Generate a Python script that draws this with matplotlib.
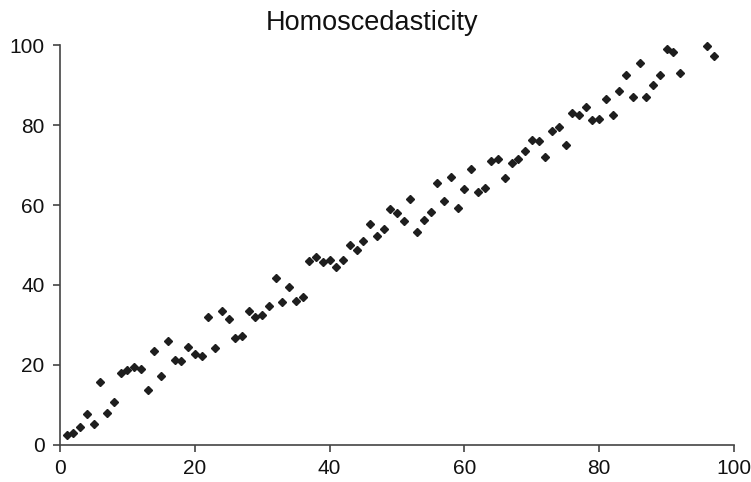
import numpy as np
import matplotlib.pyplot as plt

# =========================
# Data
# =========================
x_vals = list(range(1, 93)) + [96, 97]
y_vals = [
    2.5, 3.0, 4.4, 7.7, 5.2, 15.8, 7.9, 10.7, 18.0, 18.7,
    19.4, 19.1, 13.7, 23.6, 17.2, 26.0, 21.2, 20.9, 24.6, 22.7,
    22.2, 32.1, 24.2, 33.4, 31.4, 26.7, 27.2, 33.5, 31.9, 32.6,
    34.8, 41.8, 35.7, 39.4, 36.0, 37.1, 46.1, 46.9, 45.7, 46.3,
    44.4, 46.2, 50.1, 48.7, 50.9, 55.2, 52.2, 54.1, 59.1, 57.9,
    56.0, 61.4, 53.2, 56.2, 58.3, 65.4, 61.1, 67.1, 59.2, 64.0,
    69.1, 63.2, 64.3, 71.1, 71.5, 66.7, 70.4, 71.5, 73.5, 76.2,
    76.1, 72.0, 78.5, 79.6, 75.1, 83.0, 82.6, 84.6, 81.2, 81.6,
    86.6, 82.6, 88.4, 92.4, 87.0, 95.5, 87.0, 90.0, 92.4, 98.9,
    98.3, 93.1, 99.8, 97.2,
]
x_ticks = [0, 20, 40, 60, 80, 100]
y_ticks = [0, 20, 40, 60, 80, 100]

# =========================
# Plot
# =========================
plt.rcParams["font.family"] = ["Liberation Sans", "DejaVu Sans"]

fig = plt.figure(figsize=(7.51, 4.82), dpi=100)
ax = fig.add_axes([0.0799, 0.0768, 0.8975, 0.8298])

ax.plot(x_vals, y_vals, linestyle="none", marker="D", markersize=4.4,
        color="#1e1e1e", clip_on=False)

ax.set_xlim(0, 100)
ax.set_ylim(0, 100)
ax.set_xticks(x_ticks)
ax.set_yticks(y_ticks)

for side in ["top", "right"]:
    ax.spines[side].set_visible(False)
for side in ["left", "bottom"]:
    ax.spines[side].set_color("#444444")
    ax.spines[side].set_linewidth(1.2)

ax.tick_params(axis="both", direction="out", length=5, width=1.2,
               color="#444444", labelsize=15, labelcolor="#111111")
ax.tick_params(axis="x", pad=5)
ax.tick_params(axis="y", pad=6)

# title sits centred on the figure rather than on the axes
ax.set_title("Homoscedasticity", fontsize=19.5, pad=11, color="#111111", x=0.463)

fig.savefig("out.png", dpi=100)
